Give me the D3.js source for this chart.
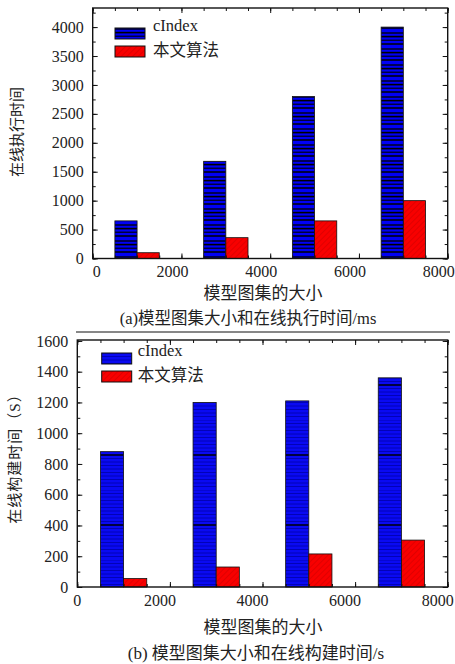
<!DOCTYPE html>
<html>
<head>
<meta charset="utf-8">
<script src="https://cdn.jsdelivr.net/npm/d3@7"></script>
<style>
  html, body { margin: 0; padding: 0; background: #fff; }
  svg { display: block; }
  text { font-family: "Liberation Serif", "Noto Sans CJK SC", serif; fill: #222; }
</style>
</head>
<body>
<div id="chart"></div>
<script>
// data
const groups = [1000, 3000, 5000, 7000];
const barSpan = 500;
const xTicks = [0, 2000, 4000, 6000, 8000];
const seriesNames = ['cIndex', '本文算法'];

const execCIndex = [650, 1680, 2800, 4000];
const execOurs = [100, 360, 650, 1000];
const execTicks = [0, 500, 1000, 1500, 2000, 2500, 3000, 3500, 4000];

const buildCIndex = [880, 1200, 1210, 1360];
const buildOurs = [55, 130, 215, 305];
const buildTicks = [0, 200, 400, 600, 800, 1000, 1200, 1400, 1600];

const W = 455, H = 664;
const svg = d3.select('#chart').append('svg').attr('width', W).attr('height', H);

// patterns
const defs = svg.append('defs');
const pb = defs.append('pattern').attr('id', 'blueA').attr('patternUnits', 'userSpaceOnUse')
  .attr('width', 10).attr('height', 16);
pb.append('rect').attr('width', 10).attr('height', 16).attr('fill', '#0000f5');
[[1, 1.3], [4.6, 1.6], [8.2, 1.1], [12, 1.5]].forEach(([y, w]) =>
  pb.append('line').attr('x1', 0).attr('x2', 10).attr('y1', y).attr('y2', y)
    .attr('stroke', '#000').attr('stroke-width', w));

const pb2 = defs.append('pattern').attr('id', 'blueB').attr('patternUnits', 'userSpaceOnUse')
  .attr('width', 10).attr('height', 70);
pb2.append('rect').attr('width', 10).attr('height', 70).attr('fill', '#0a0af2');
d3.range(0, 70, 3.5).forEach(y =>
  pb2.append('line').attr('x1', 0).attr('x2', 10).attr('y1', y).attr('y2', y)
    .attr('stroke', '#0000a8').attr('stroke-width', 0.8));
pb2.append('line').attr('x1', 0).attr('x2', 10).attr('y1', 35).attr('y2', 35)
  .attr('stroke', '#000').attr('stroke-width', 1.4);

const pr = defs.append('pattern').attr('id', 'redA').attr('patternUnits', 'userSpaceOnUse')
  .attr('width', 4).attr('height', 4).attr('patternTransform', 'rotate(45)');
pr.append('rect').attr('width', 4).attr('height', 4).attr('fill', '#f80000');
pr.append('line').attr('x1', 0).attr('x2', 0).attr('y1', 0).attr('y2', 4)
  .attr('stroke', '#c80000').attr('stroke-width', 1);

function drawChart(cfg) {
  const x = d3.scaleLinear().domain([0, 8000]).range([cfg.left, cfg.right]);
  const y = d3.scaleLinear().domain(cfg.yDomain).range([cfg.bottom, cfg.top]);
  const g = svg.append('g');

  // bars
  const rows = groups.map((d, i) => ({ g: d, a: cfg.a[i], b: cfg.b[i] }));
  g.selectAll('.ba').data(rows).join('rect')
    .attr('x', d => x(d.g - barSpan)).attr('width', d => x(d.g) - x(d.g - barSpan))
    .attr('y', d => y(d.a)).attr('height', d => y(0) - y(d.a))
    .attr('fill', `url(#${cfg.bluePat})`).attr('stroke', '#111').attr('stroke-width', 0.8);
  g.selectAll('.bb').data(rows).join('rect')
    .attr('x', d => x(d.g)).attr('width', d => x(d.g + barSpan) - x(d.g))
    .attr('y', d => y(d.b)).attr('height', d => y(0) - y(d.b))
    .attr('fill', 'url(#redA)').attr('stroke', '#111').attr('stroke-width', 0.8);

  // axes, ticks inside on all four sides
  const yMinor = d3.range(cfg.yDomain[0], cfg.yDomain[1], cfg.yMinorStep);
  const xMinor = d3.range(0, 8001, 500);
  g.append('g').attr('transform', `translate(${cfg.left},0)`)
    .call(d3.axisRight(y).tickValues(yMinor).tickSize(3).tickFormat(''));
  g.append('g').attr('transform', `translate(${cfg.left},0)`)
    .call(d3.axisRight(y).tickValues(cfg.yTicks).tickSize(5).tickFormat(''));
  g.append('g').attr('transform', `translate(${cfg.right},0)`)
    .call(d3.axisLeft(y).tickValues(yMinor).tickSize(3).tickFormat(''));
  g.append('g').attr('transform', `translate(${cfg.right},0)`)
    .call(d3.axisLeft(y).tickValues(cfg.yTicks).tickSize(5).tickFormat(''));
  g.append('g').attr('transform', `translate(0,${cfg.bottom})`)
    .call(d3.axisTop(x).tickValues(xMinor).tickSize(3).tickFormat(''));
  g.append('g').attr('transform', `translate(0,${cfg.bottom})`)
    .call(d3.axisTop(x).tickValues(xTicks).tickSize(5).tickFormat(''));
  g.append('g').attr('transform', `translate(0,${cfg.top})`)
    .call(d3.axisBottom(x).tickValues(xMinor).tickSize(3).tickFormat(''));
  g.append('g').attr('transform', `translate(0,${cfg.top})`)
    .call(d3.axisBottom(x).tickValues(xTicks).tickSize(5).tickFormat(''));
  g.selectAll('.domain').remove();
  g.selectAll('.tick line').attr('stroke', '#111').attr('stroke-width', 1);

  g.append('rect').attr('x', cfg.left).attr('y', cfg.top)
    .attr('width', cfg.right - cfg.left).attr('height', cfg.bottom - cfg.top)
    .attr('fill', 'none').attr('stroke', '#111').attr('stroke-width', 1.4);

  // tick labels
  g.selectAll('.yl').data(cfg.yTicks).join('text')
    .attr('x', cfg.left - 9).attr('y', d => y(d)).attr('dy', '0.35em')
    .attr('text-anchor', 'end').attr('font-size', 16).text(d => d);
  g.selectAll('.xl').data(xTicks).join('text')
    .attr('x', d => x(d) + (d === 0 ? cfg.zeroShift : cfg.xLabelShift))
    .attr('y', cfg.bottom + 13).attr('dy', '0.35em')
    .attr('text-anchor', 'middle').attr('font-size', 16).text(d => d);

  // titles
  g.append('text').attr('x', 263).attr('y', cfg.xTitleY).attr('dy', '0.35em')
    .attr('text-anchor', 'middle').attr('font-size', 17).attr('fill', '#333').text('模型图集的大小');
  g.append('text').attr('transform', `translate(${cfg.yTitleX},${cfg.yTitleY}) rotate(-90)`)
    .attr('dy', '0.35em').attr('text-anchor', 'middle').attr('font-size', 15).attr('fill', '#333')
    .attr('letter-spacing', cfg.yTitleSpacing)
    .text(cfg.yTitle);
  g.append('text').attr('x', cfg.capX).attr('y', cfg.capY).attr('dy', '0.35em')
    .attr('text-anchor', 'middle').attr('font-size', cfg.capSize).attr('fill', '#222').text(cfg.caption);

  // legend
  const leg = g.append('g').attr('transform', `translate(${cfg.legX},${cfg.legY})`);
  const pats = [cfg.bluePat, 'redA'];
  seriesNames.forEach((name, i) => {
    leg.append('rect').attr('x', 0).attr('y', i * 18).attr('width', 30).attr('height', 11)
      .attr('fill', `url(#${pats[i]})`).attr('stroke', '#111').attr('stroke-width', 1);
    leg.append('text').attr('x', cfg.legTextX).attr('y', i * 25 - 3).attr('dy', '0.35em')
      .attr('font-size', 16.5).text(name);
  });
}

drawChart({
  left: 92.7, right: 447.7, top: 8, bottom: 258.5,
  yDomain: [0, 4330], yTicks: execTicks, yMinorStep: 250,
  a: execCIndex, b: execOurs, bluePat: 'blueA',
  xLabelShift: -9, zeroShift: 4, xTitleY: 293,
  yTitle: '在线执行时间', yTitleX: 17, yTitleY: 132, yTitleSpacing: 0,
  caption: '(a)模型图集大小和在线执行时间/ms', capX: 248, capY: 318, capSize: 16.5,
  legX: 115, legY: 28, legTextX: 38
});

// separator line between the two panels
svg.append('line').attr('x1', 76).attr('x2', 450).attr('y1', 332).attr('y2', 332)
  .attr('stroke', '#111').attr('stroke-width', 1);

drawChart({
  left: 77.3, right: 447.7, top: 340, bottom: 587,
  yDomain: [0, 1606], yTicks: buildTicks, yMinorStep: 100,
  a: buildCIndex, b: buildOurs, bluePat: 'blueB',
  xLabelShift: -10, zeroShift: 0, xTitleY: 627,
  yTitle: '在线构建时间（S）', yTitleX: 15, yTitleY: 455, yTitleSpacing: 1,
  caption: '(b) 模型图集大小和在线构建时间/s', capX: 256, capY: 653, capSize: 17,
  legX: 101.7, legY: 353, legTextX: 36
});
</script>
</body>
</html>
